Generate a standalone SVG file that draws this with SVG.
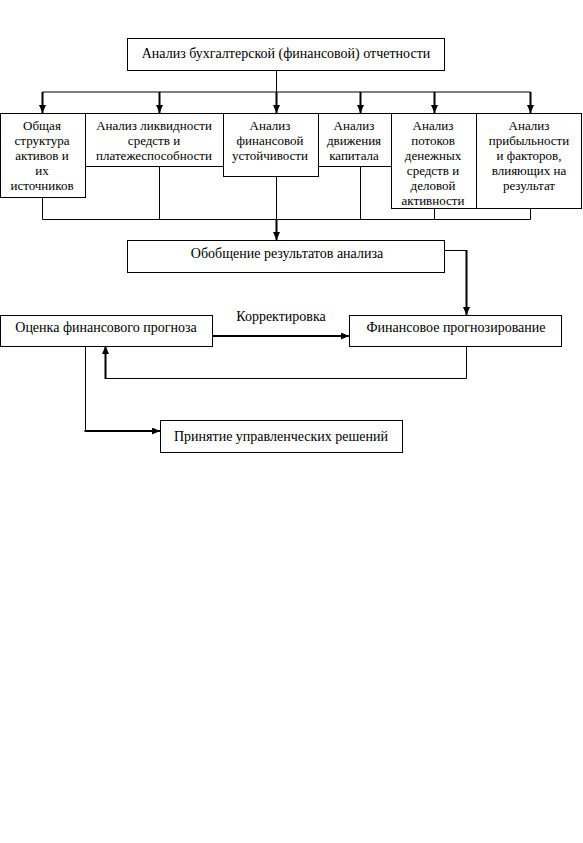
<svg xmlns="http://www.w3.org/2000/svg" width="583" height="843" viewBox="0 0 583 843">
<defs>
<marker id="ah" viewBox="0 0 8 7" refX="8" refY="3.5" markerWidth="8" markerHeight="7" markerUnits="userSpaceOnUse" orient="auto">
<path d="M0,0 L8,3.5 L0,7 Z" fill="#000"/>
</marker>
<style>
.box{fill:#fff;stroke:#000;stroke-width:1}
.t{font-family:"Liberation Serif","Times New Roman",serif;font-size:13px;fill:#000;text-anchor:middle}
.l{font-size:14px}
.ln{fill:none;stroke:#000;stroke-width:1}
.ar{fill:none;stroke:#000;stroke-width:2;marker-end:url(#ah)}
</style>
</defs>
<rect width="583" height="843" fill="#fff"/>
<g id="connectors">
<path class="ln" d="M276.5,70 V92 M42.5,92 H530.5"/>
<path class="ar" d="M42.5,92 V113"/>
<path class="ar" d="M159.5,92 V113"/>
<path class="ar" d="M276.5,92 V113"/>
<path class="ar" d="M360.5,92 V113"/>
<path class="ar" d="M434.5,92 V113"/>
<path class="ar" d="M530.5,92 V113"/>
<path class="ln" d="M42.5,197 V219.5 H530.5 V208 M159.5,166 V219.5 M360.5,166 V219.5 M434.5,208 V219.5 M276.5,176 V219.5"/>
<path class="ar" d="M276.5,219 V240"/>
<path class="ln" d="M444,250.5 H466.5"/>
<path class="ar" d="M466.5,250 V315"/>
<path class="ar" d="M212,336 H349"/>
<path class="ln" d="M466.5,346 V378.5 H105.5"/>
<path class="ar" d="M105.5,379 V346"/>
<path class="ln" d="M85.5,346 V431"/>
<path class="ar" d="M84.5,431 H160"/>
<text class="t l" x="281" y="321">Корректировка</text>
</g>
<g id="n-top"><rect class="box" x="127.5" y="38.5" width="317" height="32"/><text class="t l" x="286" y="58">Анализ бухгалтерской (финансовой) отчетности</text></g>
<g id="n1"><rect class="box" x="0.5" y="113.5" width="85" height="84"/>
<text class="t" x="42" y="130">Общая</text><text class="t" x="42" y="145">структура</text><text class="t" x="42" y="160">активов и</text><text class="t" x="42" y="175">их</text><text class="t" x="42" y="190">источников</text></g>
<g id="n2"><rect class="box" x="85.5" y="113.5" width="138" height="53"/>
<text class="t" x="154" y="130">Анализ ликвидности</text><text class="t" x="154" y="145">средств и</text><text class="t" x="154" y="160">платежеспособности</text></g>
<g id="n3"><rect class="box" x="223.5" y="113.5" width="95" height="63"/>
<text class="t" x="270" y="130">Анализ</text><text class="t" x="270" y="145">финансовой</text><text class="t" x="270" y="160">устойчивости</text></g>
<g id="n4"><rect class="box" x="318.5" y="113.5" width="73" height="53"/>
<text class="t" x="354" y="130">Анализ</text><text class="t" x="354" y="145">движения</text><text class="t" x="354" y="160">капитала</text></g>
<g id="n5"><rect class="box" x="391.5" y="113.5" width="85" height="95"/>
<text class="t" x="433" y="130">Анализ</text><text class="t" x="433" y="145">потоков</text><text class="t" x="433" y="160">денежных</text><text class="t" x="433" y="175">средств и</text><text class="t" x="433" y="190">деловой</text><text class="t" x="433" y="205">активности</text></g>
<g id="n6"><rect class="box" x="476.5" y="113.5" width="105" height="95"/>
<text class="t" x="529" y="130">Анализ</text><text class="t" x="529" y="145">прибыльности</text><text class="t" x="529" y="160">и факторов,</text><text class="t" x="529" y="175">влияющих на</text><text class="t" x="529" y="190">результат</text></g>
<g id="n-sum"><rect class="box" x="127.5" y="240.5" width="317" height="32"/><text class="t l" x="287" y="258">Обобщение результатов анализа</text></g>
<g id="n-eval"><rect class="box" x="0.5" y="315.5" width="212" height="31"/><text class="t l" x="106" y="332">Оценка финансового прогноза</text></g>
<g id="n-fc"><rect class="box" x="349.5" y="315.5" width="212" height="31"/><text class="t l" x="456" y="332">Финансовое прогнозирование</text></g>
<g id="n-dec"><rect class="box" x="160.5" y="420.5" width="242" height="32"/><text class="t l" x="281" y="441">Принятие управленческих решений</text></g>
</svg>
